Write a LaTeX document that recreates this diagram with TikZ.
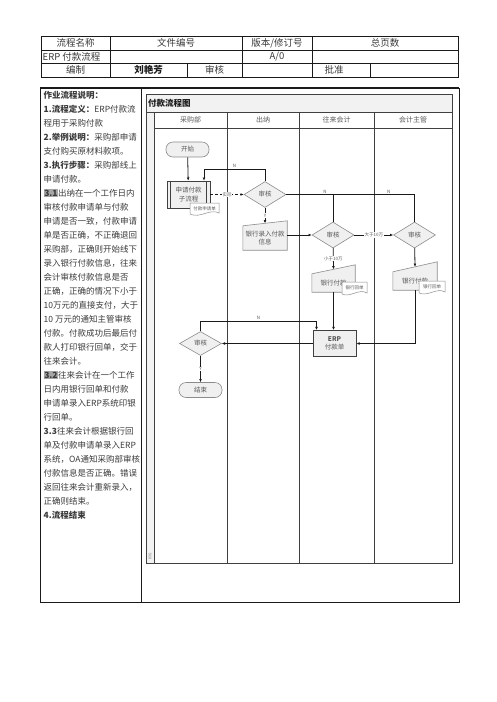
\documentclass[tikz,border=0pt]{standalone}
\usepackage{fontspec}
\setmainfont{Noto Sans CJK SC}
\usepackage{tikz}
\usetikzlibrary{arrows.meta,positioning,shapes.geometric,backgrounds,calc}
\definecolor{ink}      {HTML}{1A1A1A}
\definecolor{bodytext} {HTML}{3A3A3A}
\definecolor{flowtext} {HTML}{595959}
\definecolor{laneline} {HTML}{404040}
\definecolor{shapeline}{HTML}{8C8C8C}
\definecolor{shapefill}{HTML}{F0F0F0}
\definecolor{bandfill} {HTML}{F2F2F2}
\definecolor{markbg}   {HTML}{A6A6A6}
\newcommand{\stepmark}[1]{{\setlength{\fboxsep}{0.6pt}\colorbox{markbg}{\bfseries #1}}}
\tikzset{
  rule/.style     ={draw=ink, line width=0.6pt},
  cell/.style     ={font=\fontsize{9.5}{11}\selectfont, text=bodytext, inner sep=0pt},
  lane/.style     ={draw=laneline, line width=0.6pt},
  lanehead/.style ={font=\fontsize{7}{8}\selectfont, text=flowtext, inner sep=0pt},
  term/.style     ={draw=shapeline, fill=shapefill, rounded corners=7pt, line width=0.6pt,
                    minimum width=43pt, minimum height=15pt, inner sep=0pt,
                    font=\fontsize{6.5}{8}\selectfont, text=flowtext},
  subproc/.style  ={draw=laneline, fill=shapefill, line width=0.6pt,
                    minimum width=43pt, minimum height=27pt, inner sep=0pt, align=center,
                    font=\fontsize{6.5}{8.5}\selectfont, text=flowtext},
  decision/.style ={diamond, draw=shapeline, fill=shapefill, line width=0.6pt,
                    minimum width=42pt, minimum height=26pt, inner sep=0pt,
                    font=\fontsize{6.5}{8}\selectfont, text=flowtext},
  manual/.style   ={inner sep=0pt, align=center,
                    font=\fontsize{6.5}{8.5}\selectfont, text=flowtext},
  erpbox/.style   ={draw=laneline, fill=shapefill, line width=0.9pt,
                    minimum width=43pt, minimum height=26pt, inner sep=0pt, align=center,
                    font=\fontsize{6.5}{8.5}\selectfont, text=flowtext},
  docshape/.style ={draw=shapeline, fill=white, line width=0.5pt},
  doctext/.style  ={font=\fontsize{4.5}{5}\selectfont, text=flowtext, inner sep=0pt},
  flow/.style     ={-{Latex[length=3.2pt,width=2.8pt]}, draw=ink, line width=0.8pt},
  back/.style     ={draw=ink, line width=0.8pt},
  tag/.style      ={font=\fontsize{4.5}{5}\selectfont, text=flowtext, inner sep=0.6pt, fill=white},
}
\begin{document}
\begin{tikzpicture}[x=1pt,y=-1pt]
  \useasboundingbox (0,0) rectangle (496,702);

  % header table
  \draw[rule] (41,36) rectangle (458,77);
  \draw[rule] (41,50) -- (458,50) (41,63) -- (458,63);
  \draw[rule] (110,36) -- (110,77) (242,36) -- (242,77) (312,36) -- (312,77)
              (187,63) -- (187,77) (370,63) -- (370,77);
  \node[cell] (hname)  at (75.5,43)  {流程名称};
  \node[cell] (hcode)  at (176,43)   {文件编号};
  \node[cell] (hver)   at (277,43)   {版本/修订号};
  \node[cell] (hpages) at (385,43)   {总页数};
  \node[cell, anchor=west] (vname) at (42.5,56.5) {ERP 付款流程};
  \node[cell] (vver)   at (277,56.5) {A/0};
  \node[cell] (hauth)  at (75.5,70)  {编制};
  \node[cell, font=\fontsize{9.5}{11}\bfseries, text=ink] (vauth) at (148.5,70) {刘艳芳};
  \node[cell] (hcheck) at (214.5,70) {审核};
  \node[cell] (happr)  at (334,70)   {批准};

  % outer frame
  \draw[draw=ink, line width=2.2pt] (40,88) -- (459,88);
  \draw[draw=ink, line width=1pt] (40,88) rectangle (459,602);
  \draw[draw=ink, line width=1pt] (141,88) -- (141,602);

  % notes column
  \node[anchor=north west, inner sep=0pt, align=left, text=bodytext,
        font=\fontsize{8.5}{14}\selectfont] (notes) at (43.5,90.5)
    {\textbf{作业流程说明：}\\
     \textbf{1.流程定义：}ERP付款流\\
     程用于采购付款\\
     \textbf{2.举例说明：}采购部申请\\
     支付购买原材料款项。\\
     \textbf{3.执行步骤：}采购部线上\\
     申请付款。\\
     \stepmark{3.1}出纳在一个工作日内\\
     审核付款申请单与付款\\
     申请是否一致，付款申请\\
     单是否正确，不正确退回\\
     采购部，正确则开始线下\\
     录入银行付款信息，往来\\
     会计审核付款信息是否\\
     正确，正确的情况下小于\\
     10万元的直接支付，大于\\
     10 万元的通知主管审核\\
     付款。付款成功后最后付\\
     款人打印银行回单，交于\\
     往来会计。\\
     \stepmark{3.2}往来会计在一个工作\\
     日内用银行回单和付款\\
     申请单录入ERP系统印银\\
     行回单。\\
     \textbf{3.3}往来会计根据银行回\\
     单及付款申请单录入ERP\\
     系统，OA通知采购部审核\\
     付款信息是否正确。错误\\
     返回往来会计重新录入，\\
     正确则结束。\\
     \textbf{4.流程结束}};

  % swimlane pool
  \draw[lane] (146,94) rectangle (452,563);
  \filldraw[lane, fill=bandfill] (146,94) rectangle (452,112);
  \filldraw[lane, fill=bandfill] (146,112) rectangle (154,563);
  \foreach \x in {227,299,374}
    \draw[lane] (\x,112) -- (\x,563);
  \draw[lane] (154,128) -- (452,128);
  \node[anchor=west, inner sep=0pt, font=\fontsize{8.5}{10}\bfseries, text=ink] (pooltitle)
    at (148,103) {付款流程图};
  \node[lanehead] (lbuy)  at (190.5,120) {采购部};
  \node[lanehead] (lcash) at (263,120)   {出纳};
  \node[lanehead] (larc)  at (336.5,120) {往来会计};
  \node[lanehead] (lmgr)  at (413,120)   {会计主管};
  \node[rotate=90, inner sep=0pt, font=\fontsize{3.5}{4}\selectfont, text=shapeline] (lphase)
    at (150,556) {阶段};

  % steps
  \node[term]     (start)   at (187.5,149.5) {开始};
  \node[subproc]  (apply)   at (188.5,194.5) {申请付款\\子流程};
  \draw[lane] ([xshift=4pt]apply.north west) -- ([xshift=4pt]apply.south west)
              ([xshift=-4pt]apply.north east) -- ([xshift=-4pt]apply.south east);
  \node[decision] (cashchk) at (265,194.5)   {审核};
  \node[manual, minimum width=44pt, minimum height=24pt] (cashin) at (265,238) {银行录入付款\\信息};
  \node[decision] (arcchk)  at (333,235)     {审核};
  \node[decision] (mgrchk)  at (414.5,235)   {审核};
  \node[manual, minimum width=43pt, minimum height=18pt] (arcpay) at (333.5,283) {银行付款};
  \node[manual, minimum width=44pt, minimum height=18pt] (mgrpay) at (415,281)   {银行付款};
  \node[erpbox]   (erp)     at (334.5,343.5) {\textbf{ERP}\\付款单};
  \node[decision, minimum height=24pt] (buychk) at (200.5,343.5) {审核};
  \node[term]     (finish)  at (200.5,390)   {结束};

  \begin{scope}[on background layer]
    \foreach \b/\s in {cashin/5,arcpay/9,mgrpay/10}
      \filldraw[draw=shapeline, fill=shapefill, line width=0.6pt]
        (\b.south west) -- (\b.south east) -- ([yshift=\s pt]\b.north east) -- (\b.north west) -- cycle;
  \end{scope}

  % documents
  \filldraw[docshape] (190,203) -- (219,203) -- (219,213)
    .. controls (210,208) and (200,219) .. (190,214) -- cycle;
  \node[doctext] (slipapply) at (204.5,208.5) {付款申请单};
  \filldraw[docshape] (342,282) -- (367,282) -- (367,293)
    .. controls (359,288) and (350,298) .. (342,294) -- cycle;
  \node[doctext] (sliparc) at (354.5,287.5) {银行回单};
  \filldraw[docshape] (419,281) -- (445,281) -- (445,292)
    .. controls (437,287) and (428,297) .. (419,293) -- cycle;
  \node[doctext] (slipmgr) at (432,286.5) {银行回单};

  % connectors
  \draw[flow] (start) -- (apply);
  \draw[flow, densely dashed] (apply) -- node[tag] {实际} (cashchk);
  \draw[flow] (cashchk.north) -- ++(0,-12) -| node[tag, pos=0.25, above=0.3pt] {N}
              ([xshift=15.5pt]apply.north);
  \draw[flow] (cashchk) -- node[tag] {Y} ([yshift=2.5pt]cashin.north);
  \draw[flow] (cashin.east |- arcchk.west) -- (arcchk.west);
  \draw[flow] (arcchk) -- node[tag] {大于10万} (mgrchk);
  \draw[back] (arcchk.north) |- node[tag, pos=0.585, above=0.3pt] {N} (cashchk.east);
  \draw[back] (mgrchk.north) |- node[tag, pos=0.6, above=0.3pt] {N} (cashchk.east);
  \draw[flow] (arcchk) -- node[tag] {小于10万} ([yshift=4.5pt]arcpay.north);
  \draw[flow] (mgrchk) -- ([yshift=5pt]mgrpay.north);
  \draw[flow] (arcpay) -- (arcpay |- erp.north);
  \draw[flow] (mgrpay) |- (erp.east);
  \draw[flow] (erp) -- (buychk);
  \draw[flow] (buychk.north) -- ++(0,-10) -| node[tag, pos=0.25, above=0.3pt] {N}
              ([xshift=-18pt]erp.north);
  \draw[flow] (buychk) -- node[tag] {Y} (finish);
\end{tikzpicture}
\end{document}
